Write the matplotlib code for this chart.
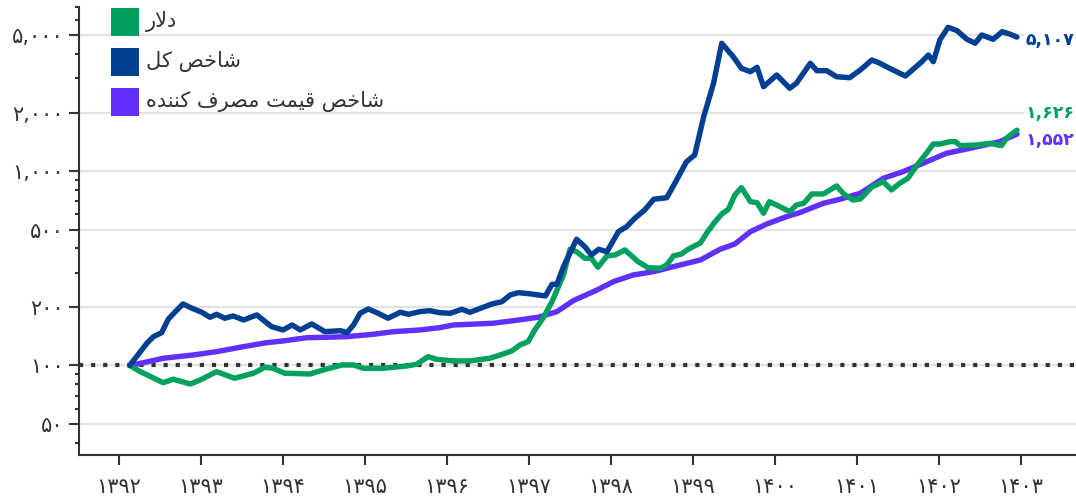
import numpy as np
import matplotlib
matplotlib.use("Agg")
import matplotlib.pyplot as plt
from matplotlib.patches import Rectangle
from matplotlib.ticker import FixedLocator, NullFormatter

# --- Data ---
dollar_x = [1392.13, 1392.26, 1392.40, 1392.54, 1392.66, 1392.87, 1392.99, 1393.19, 1393.41, 1393.64,
            1393.78, 1393.88, 1394.02, 1394.33, 1394.49, 1394.72, 1394.86, 1394.98, 1395.22, 1395.51,
            1395.63, 1395.77, 1395.87, 1396.08, 1396.28, 1396.52, 1396.65, 1396.79, 1396.89, 1396.99,
            1397.07, 1397.17, 1397.28, 1397.42, 1397.50, 1397.58, 1397.68, 1397.76, 1397.84, 1397.95,
            1398.05, 1398.17, 1398.33, 1398.45, 1398.60, 1398.68, 1398.76, 1398.86, 1398.94, 1399.09,
            1399.18, 1399.27, 1399.35, 1399.43, 1399.51, 1399.59, 1399.70, 1399.78, 1399.86, 1399.93,
            1400.06, 1400.18, 1400.26, 1400.35, 1400.45, 1400.59, 1400.75, 1400.85, 1400.95, 1401.04,
            1401.18, 1401.32, 1401.42, 1401.52, 1401.62, 1401.75, 1401.83, 1401.93, 1402.01, 1402.13,
            1402.20, 1402.26, 1402.46, 1402.62, 1402.76, 1402.82, 1402.95]
dollar_y = [100, 92.9, 87.0, 81.5, 84.9, 80.3, 84.2, 92.9, 85.9, 91.2,
            97.9, 96.7, 91.2, 90.4, 94.8, 100.6, 100.6, 96.7, 96.7, 99.4,
            101.4, 111.0, 107.6, 105.5, 105.5, 108.9, 113.3, 118.8, 127.5, 132.6,
            152.3, 175.0, 213.0, 292.3, 396.3, 385.2, 356.2, 356.2, 320.2, 366.1,
            370.5, 393.0, 342.1, 318.7, 316.4, 329.0, 366.1, 374.9, 396.3, 427.1,
            489.5, 549.6, 602.1, 636.8, 754.4, 822.6, 696.6, 688.6, 607.2, 696.6,
            656.7, 618.9, 669.9, 683.6, 763.4, 763.4, 839.2, 754.4, 710.9, 719.3,
            829.4, 883.1, 800.4, 866.4, 919.4, 1098, 1212, 1380, 1380, 1419,
            1419, 1353, 1364, 1392, 1353, 1477, 1626]

index_x = [1392.13, 1392.34, 1392.42, 1392.52, 1392.60, 1392.68, 1392.78, 1392.89, 1393.01, 1393.11,
           1393.19, 1393.29, 1393.39, 1393.52, 1393.68, 1393.86, 1394.00, 1394.11, 1394.21, 1394.35,
           1394.51, 1394.70, 1394.78, 1394.86, 1394.94, 1395.04, 1395.16, 1395.28, 1395.43, 1395.53,
           1395.67, 1395.79, 1395.91, 1396.04, 1396.18, 1396.28, 1396.44, 1396.55, 1396.67, 1396.77,
           1396.87, 1397.03, 1397.20, 1397.28, 1397.34, 1397.42, 1397.58, 1397.68, 1397.76, 1397.85,
           1397.95, 1398.09, 1398.19, 1398.29, 1398.41, 1398.52, 1398.68, 1398.80, 1398.92, 1399.02,
           1399.13, 1399.25, 1399.35, 1399.49, 1399.59, 1399.70, 1399.78, 1399.86, 1400.02, 1400.18,
           1400.26, 1400.43, 1400.51, 1400.63, 1400.75, 1400.91, 1401.04, 1401.18, 1401.28, 1401.42,
           1401.59, 1401.79, 1401.87, 1401.93, 1402.01, 1402.11, 1402.22, 1402.34, 1402.44, 1402.52,
           1402.66, 1402.77, 1402.87, 1402.95]
index_y = [100, 130.1, 140.7, 147.5, 172.9, 187.8, 207.3, 197.0, 187.8, 177.0,
           183.4, 175.0, 179.8, 171.5, 182.0, 158.4, 152.3, 161.6, 152.3, 163.6,
           149.3, 151.0, 147.5, 161.6, 185.6, 195.3, 185.6, 175.0, 187.8, 183.4,
           189.2, 191.4, 186.9, 185.6, 194.6, 187.8, 199.3, 207.3, 213.0, 230.6,
           237.0, 233.3, 227.9, 261.7, 261.7, 322.5, 446.2, 408.8, 370.5, 396.3,
           385.2, 488.4, 518.1, 572.2, 631.4, 716.8, 730.5, 901.0, 1119, 1212,
           1908, 2835, 4553, 3884, 3385, 3251, 3425, 2722, 3127, 2671,
           2835, 3592, 3290, 3290, 3064, 3028, 3318, 3735, 3592, 3346,
           3090, 3661, 3963, 3661, 4735, 5503, 5285, 4774, 4553, 5023,
           4774, 5224, 5065, 4900]

cpi_x = [1392.13, 1392.30, 1392.54, 1392.91, 1393.19, 1393.52, 1393.80, 1394.00, 1394.29, 1394.55,
         1394.78, 1395.10, 1395.35, 1395.67, 1395.91, 1396.08, 1396.28, 1396.56, 1396.81, 1397.11,
         1397.34, 1397.54, 1397.83, 1398.03, 1398.27, 1398.52, 1398.76, 1399.09, 1399.33, 1399.51,
         1399.70, 1399.90, 1400.14, 1400.30, 1400.59, 1400.79, 1401.04, 1401.32, 1401.56, 1401.85,
         1402.09, 1402.38, 1402.74, 1402.95]
cpi_y = [100, 103.4, 108.9, 113.3, 117.8, 125.0, 131.0, 133.7, 139.0, 139.7,
         140.7, 144.7, 149.3, 152.3, 156.5, 161.6, 162.9, 164.9, 170.0, 177.0,
         189.2, 215.6, 244.7, 270.0, 292.3, 304.0, 322.5, 349.1, 396.3, 422.0,
         488.4, 534.9, 583.3, 611.5, 683.6, 716.8, 769.7, 919.4, 994.1, 1119,
         1236, 1312, 1419, 1552]

series_names = ["دلار", "شاخص کل", "شاخص قیمت مصرف کننده"]
end_labels = ["۱,۶۲۶", "۵,۱۰۷", "۱,۵۵۲"]
year_ticks = list(range(1392, 1404))
year_labels = ["۱۳۹۲", "۱۳۹۳", "۱۳۹۴", "۱۳۹۵", "۱۳۹۶", "۱۳۹۷",
               "۱۳۹۸", "۱۳۹۹", "۱۴۰۰", "۱۴۰۱", "۱۴۰۲", "۱۴۰۳"]
y_ticks = [50, 100, 200, 500, 1000, 2000, 5000]
y_labels = ["۵۰", "۱۰۰", "۲۰۰", "۵۰۰", "۱,۰۰۰", "۲,۰۰۰", "۵,۰۰۰"]

colors = ["#00a05f", "#003f91", "#6130ff"]

# --- crude Persian shaping (matplotlib draws no joins, no RTL) ---
FORMS = {
    "\u0627": (0xFE8D, 0xFE8E), "\u062F": (0xFEA9, 0xFEAA), "\u0631": (0xFEAD, 0xFEAE),
    "\u0644": (0xFEDD, 0xFEDE, 0xFEDF, 0xFEE0), "\u0634": (0xFEB5, 0xFEB6, 0xFEB7, 0xFEB8),
    "\u062E": (0xFEA5, 0xFEA6, 0xFEA7, 0xFEA8), "\u0635": (0xFEB9, 0xFEBA, 0xFEBB, 0xFEBC),
    "\u0642": (0xFED5, 0xFED6, 0xFED7, 0xFED8), "\u0645": (0xFEE1, 0xFEE2, 0xFEE3, 0xFEE4),
    "\u062A": (0xFE95, 0xFE96, 0xFE97, 0xFE98), "\u0641": (0xFED1, 0xFED2, 0xFED3, 0xFED4),
    "\u0646": (0xFEE5, 0xFEE6, 0xFEE7, 0xFEE8), "\u0647": (0xFEE9, 0xFEEA, 0xFEEB, 0xFEEC),
    "\u06CC": (0xFBFC, 0xFBFD, 0xFBFE, 0xFBFF), "\u06A9": (0xFB8E, 0xFB8F, 0xFB90, 0xFB91),
}


def shape(text):
    out = []
    i = 0
    while i < len(text):
        c = text[i]
        if c not in FORMS:
            out.append(c)
            i += 1
            continue
        prev = text[i - 1] if i > 0 else ""
        joins_prev = prev in FORMS and len(FORMS[prev]) == 4
        if c == "\u0644" and i + 1 < len(text) and text[i + 1] == "\u0627":
            out.append(chr(0xFEFC if joins_prev else 0xFEFB))
            i += 2
            continue
        nxt = text[i + 1] if i + 1 < len(text) else ""
        joins_next = len(FORMS[c]) == 4 and nxt in FORMS
        f = FORMS[c]
        if joins_prev and joins_next:
            g = f[3]
        elif joins_prev:
            g = f[1]
        elif joins_next:
            g = f[2]
        else:
            g = f[0]
        out.append(chr(g))
        i += 1
    return "".join(reversed(out))


plt.rcParams["font.family"] = ["DejaVu Sans"]
text_col = "#333333"

fig = plt.figure(figsize=(10.76, 5.0), dpi=100)
ax = fig.add_axes([79 / 1076, 45 / 500, 1 - 79 / 1076, 448 / 500])

ax.set_yscale("log")
ax.set_xlim(1391.512, 1403.67)
ax.set_ylim(34.6, 7000)

for yv in y_ticks:
    ax.axhline(yv, color="#e3e3e3", lw=1.6, zorder=0)
ax.axhline(100, color="#333333", lw=3, linestyle=(0, (1, 1.9)), dash_capstyle="butt", zorder=1)

series = [(dollar_x, dollar_y), (index_x, index_y), (cpi_x, cpi_y)]
order = [2, 0, 1]
for k in order:
    xs, ys = series[k]
    ax.plot(xs, ys, color=colors[k], lw=3.9, solid_joinstyle="round", solid_capstyle="round", zorder=3)

# end labels
offsets = [(6, 12), (6, -2), (6, -4)]
for k in range(3):
    xs, ys = series[k]
    ax.annotate(end_labels[k], xy=(xs[-1], ys[-1]), xytext=offsets[k], textcoords="offset points",
                color=colors[k], fontsize=12.5, fontweight="bold", va="center", ha="left",
                bbox=dict(boxstyle="square,pad=0.1", fc="white", ec="none"), zorder=4)

ax.set_xticks(year_ticks)
ax.set_xticklabels(year_labels)
ax.yaxis.set_major_locator(FixedLocator(y_ticks))
ax.set_yticklabels(y_labels)
minor = [m * 10 ** e for e in range(1, 4) for m in (3, 4, 6, 7, 8, 9)]
ax.yaxis.set_minor_locator(FixedLocator([v for v in minor if 34.6 <= v <= 7000]))
ax.yaxis.set_minor_formatter(NullFormatter())

ax.tick_params(axis="x", length=7, width=1.5, color=text_col, labelsize=15, labelcolor=text_col, pad=9)
ax.tick_params(axis="y", which="major", length=7, width=1.5, color=text_col, labelsize=15,
               labelcolor=text_col, pad=4)
ax.tick_params(axis="y", which="minor", length=3, width=1.5, color=text_col)

for s in ["top", "right"]:
    ax.spines[s].set_visible(False)
for s in ["left", "bottom"]:
    ax.spines[s].set_color(text_col)
    ax.spines[s].set_linewidth(1.5)

# legend drawn by hand (squares + labels)
for k in range(3):
    top = 8 + 40 * k
    fig.add_artist(Rectangle((111 / 1076, 1 - (top + 28) / 500), 28 / 1076, 28 / 500,
                             transform=fig.transFigure, color=colors[k], lw=0))
    fig.text(146 / 1076, 1 - (top + 14) / 500, shape(series_names[k]), fontsize=15,
             color=text_col, va="center", ha="left")

fig.savefig("out.png", dpi=100)
